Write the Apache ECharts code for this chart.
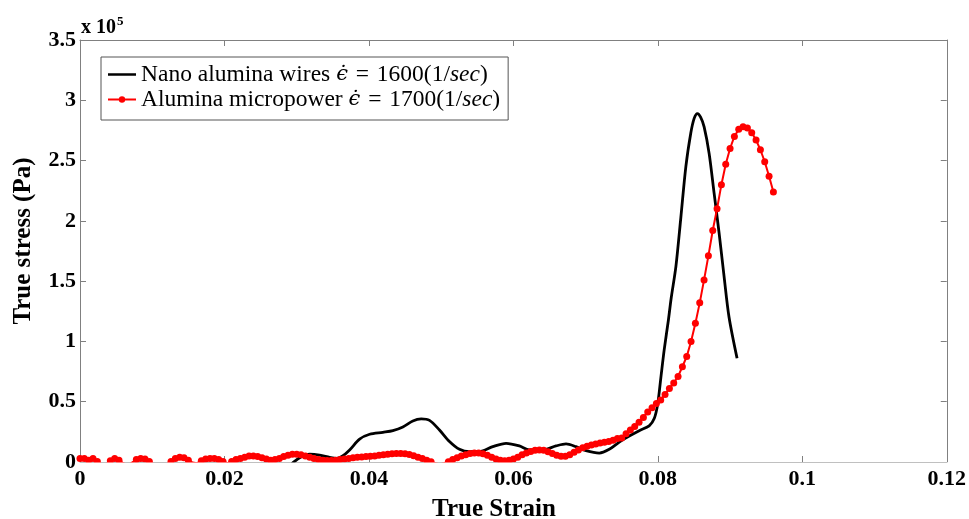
<!DOCTYPE html>
<html><head><meta charset="utf-8">
<script src="https://cdn.jsdelivr.net/npm/echarts@6/dist/echarts.min.js"></script>
<style>html,body{margin:0;padding:0;background:#fff}#c{width:969px;height:519px}</style>
</head><body><div id="c"></div>
<script>
// Stress values are in units of 10^5 Pa (as the axis multiplier shows)
const xTickLabels = ['0', '0.02', '0.04', '0.06', '0.08', '0.1', '0.12'];
const yTickLabels = ['0', '0.5', '1', '1.5', '2', '2.5', '3', '3.5'];
const seriesNames = ['Nano alumina wires \u03f5\u0307=1600(1/sec)', 'Alumina micropower \u03f5\u0307=1700(1/sec)'];

const blackX = [0.0292, 0.02949, 0.03065, 0.0318, 0.03318, 0.03456, 0.03549, 0.03636, 0.03733, 0.03871, 0.0401, 0.04193, 0.04332, 0.0447, 0.04608, 0.04724, 0.04839, 0.04977, 0.05115, 0.05254, 0.05392, 0.0553, 0.05714, 0.05899, 0.06083, 0.06221, 0.06405, 0.0659, 0.06729, 0.06867, 0.07005, 0.07189, 0.07327, 0.07466, 0.07604, 0.07742, 0.0788, 0.0795, 0.07998, 0.08042, 0.08088, 0.08147, 0.08185, 0.0825, 0.08319, 0.08388, 0.08457, 0.08503, 0.08548, 0.08592, 0.08641, 0.0871, 0.08779, 0.08848, 0.08917, 0.08986, 0.09097];
const blackY = [-0.03, -0.005, 0.044, 0.066, 0.058, 0.039, 0.03, 0.05, 0.1, 0.19, 0.23, 0.246, 0.26, 0.29, 0.34, 0.357, 0.345, 0.265, 0.17, 0.105, 0.085, 0.085, 0.127, 0.155, 0.133, 0.1, 0.1, 0.133, 0.15, 0.127, 0.094, 0.074, 0.105, 0.165, 0.215, 0.26, 0.3, 0.36, 0.48, 0.7, 0.93, 1.18, 1.36, 1.62, 2.03, 2.45, 2.73, 2.85, 2.89, 2.86, 2.78, 2.56, 2.23, 1.9, 1.54, 1.2, 0.86];

const redX = [0, 0.0006, 0.0012, 0.0018, 0.0024, 0.003, 0.0036, 0.0042, 0.0048, 0.0054, 0.006, 0.0066, 0.0072, 0.0078, 0.0084, 0.009, 0.0096, 0.0102, 0.0108, 0.0114, 0.012, 0.0126, 0.0132, 0.0138, 0.0144, 0.015, 0.0156, 0.0162, 0.0168, 0.0174, 0.018, 0.0186, 0.0192, 0.0198, 0.0204, 0.021, 0.0216, 0.0222, 0.0228, 0.0234, 0.024, 0.0246, 0.0252, 0.0258, 0.0264, 0.027, 0.0276, 0.0282, 0.0288, 0.0294, 0.03, 0.0306, 0.0312, 0.0318, 0.0324, 0.033, 0.0336, 0.0342, 0.0348, 0.0354, 0.036, 0.0366, 0.0372, 0.0378, 0.0384, 0.039, 0.0396, 0.0402, 0.0408, 0.0414, 0.042, 0.0426, 0.0432, 0.0438, 0.0444, 0.045, 0.0456, 0.0462, 0.0468, 0.0474, 0.048, 0.0486, 0.0492, 0.0498, 0.0504, 0.051, 0.0516, 0.0522, 0.0528, 0.0534, 0.054, 0.0546, 0.0552, 0.0558, 0.0564, 0.057, 0.0576, 0.0582, 0.0588, 0.0594, 0.06, 0.0606, 0.0612, 0.0618, 0.0624, 0.063, 0.0636, 0.0642, 0.0648, 0.0654, 0.066, 0.0666, 0.0672, 0.0678, 0.0684, 0.069, 0.0696, 0.0702, 0.0708, 0.0714, 0.072, 0.0726, 0.0732, 0.0738, 0.0744, 0.075, 0.0756, 0.0762, 0.0768, 0.0774, 0.078, 0.0786, 0.0792, 0.0798, 0.0804, 0.081, 0.0816, 0.0822, 0.0828, 0.0834, 0.084, 0.0846, 0.0852, 0.0858, 0.0864, 0.087, 0.0876, 0.0882, 0.0888, 0.0894, 0.09, 0.0906, 0.0912, 0.0918, 0.0924, 0.093, 0.0936, 0.0942, 0.0948, 0.0954, 0.096];
const redY = [0.03, 0.03, 0.015, 0.03, 0.005, -0.02, -0.02, 0.01, 0.03, 0.015, -0.01, -0.03, -0.005, 0.02, 0.03, 0.025, 0.005, -0.02, -0.04, -0.04, -0.02, 0.005, 0.03, 0.04, 0.035, 0.015, -0.005, -0.01, 0.01, 0.025, 0.03, 0.03, 0.02, 0.005, -0.01, 0.005, 0.02, 0.03, 0.04, 0.05, 0.05, 0.045, 0.035, 0.025, 0.015, 0.02, 0.03, 0.045, 0.055, 0.065, 0.065, 0.06, 0.05, 0.04, 0.03, 0.02, 0.015, 0.012, 0.012, 0.015, 0.02, 0.025, 0.03, 0.035, 0.04, 0.042, 0.045, 0.047, 0.05, 0.055, 0.06, 0.065, 0.068, 0.07, 0.07, 0.068, 0.062, 0.052, 0.04, 0.028, 0.015, 0.003, -0.01, -0.02, -0.01, 0.003, 0.02, 0.035, 0.05, 0.06, 0.07, 0.075, 0.075, 0.068, 0.055, 0.04, 0.025, 0.015, 0.01, 0.015, 0.025, 0.04, 0.06, 0.075, 0.088, 0.097, 0.1, 0.097, 0.085, 0.07, 0.055, 0.047, 0.048, 0.06, 0.08, 0.1, 0.118, 0.13, 0.14, 0.15, 0.158, 0.163, 0.17, 0.18, 0.195, 0.2, 0.235, 0.265, 0.295, 0.33, 0.37, 0.415, 0.45, 0.485, 0.515, 0.56, 0.61, 0.655, 0.71, 0.79, 0.875, 1.0, 1.15, 1.32, 1.51, 1.71, 1.92, 2.1, 2.3, 2.47, 2.6, 2.7, 2.76, 2.78, 2.77, 2.73, 2.67, 2.59, 2.49, 2.37, 2.24];

const serif = '"Liberation Serif", "DejaVu Serif", serif';
const axisGray = '#808080';

const blackData = blackX.map((x, i) => [x, blackY[i]]);
const redData = redX.map((x, i) => [x, redY[i]]);

const chart = echarts.init(document.getElementById('c'), null, {renderer: 'canvas'});

const xFmt = v => { const s = xTickLabels.find(t => Math.abs(parseFloat(t) - v) < 1e-9); return s !== undefined ? s : ''; };
const yFmt = v => { const s = yTickLabels.find(t => Math.abs(parseFloat(t) - v) < 1e-9); return s !== undefined ? s : ''; };

const baseAxis = {
  type: 'value',
  axisLine: {show: true, onZero: false, lineStyle: {color: axisGray, width: 1}},
  axisTick: {show: true, inside: true, length: 6, lineStyle: {color: axisGray, width: 1}},
  splitLine: {show: false}
};

// thin horizontal bar icon (tiny corner points keep the 28x8 box so it is not stretched)
const lineIcon = 'path://M0,0 L0.01,0 L0,0.01 Z M0,2.7 L28,2.7 L28,5.3 L0,5.3 Z M28,8 L27.99,8 L28,7.99 Z';

chart.setOption({
  animation: false,
  backgroundColor: '#fff',
  grid: {left: 80, right: 21, top: 40, bottom: 57, containLabel: false},
  xAxis: [
    Object.assign({}, baseAxis, {min: 0, max: 0.12, interval: 0.02, position: 'bottom',
      axisLabel: {formatter: xFmt, color: '#000', fontFamily: serif, fontWeight: 'bold', fontSize: 22, margin: 6}}),
    Object.assign({}, baseAxis, {min: 0, max: 0.12, interval: 0.02, position: 'top', axisLabel: {show: false}})
  ],
  yAxis: [
    Object.assign({}, baseAxis, {min: 0, max: 3.5, interval: 0.5, position: 'left',
      axisLabel: {formatter: yFmt, color: '#000', fontFamily: serif, fontWeight: 'bold', fontSize: 22, margin: 4}}),
    Object.assign({}, baseAxis, {min: 0, max: 3.5, interval: 0.5, position: 'right', axisLabel: {show: false}})
  ],
  legend: {
    left: 101, top: 57, orient: 'vertical',
    backgroundColor: '#fff', borderColor: '#555', borderWidth: 1,
    padding: [5, 8, 8, 6], itemGap: 0, itemWidth: 28, itemHeight: 8,
    data: [{name: seriesNames[0], icon: lineIcon}, {name: seriesNames[1]}],
    formatter: name => name
      .replace('\u03f5\u0307', '{e|\u03f5\u0307}')
      .replace('=', '\u2004=\u2004')
      .replace('sec', '{i|sec}'),
    textStyle: {color: '#000', fontFamily: serif, fontSize: 23.5, lineHeight: 25,
      rich: {
        i: {fontStyle: 'italic', fontFamily: serif, fontSize: 23.5, lineHeight: 25, color: '#000'},
        e: {fontFamily: '"DejaVu Serif", serif', fontStyle: 'italic', fontSize: 21, lineHeight: 25, color: '#000'}
      }}
  },
  graphic: [
    {type: 'text', left: 81, top: 15, z: 10, style: {
      text: '{a|x 10}{b|5}', rich: {
        a: {fontFamily: serif, fontWeight: 'bold', fontSize: 20, fill: '#000', verticalAlign: 'bottom'},
        b: {fontFamily: serif, fontWeight: 'bold', fontSize: 13, fill: '#000', verticalAlign: 'top', padding: [0, 0, 10, 1]}
      }}},
    {type: 'text', x: 494, y: 510, z: 10, style: {text: 'True Strain', fontFamily: serif, fontWeight: 'bold', fontSize: 25, fill: '#000', align: 'center', verticalAlign: 'middle'}},
    {type: 'text', x: 24, y: 241, rotation: Math.PI / 2, z: 10, style: {text: 'True stress (Pa)', fontFamily: serif, fontWeight: 'bold', fontSize: 25, fill: '#000', align: 'center', verticalAlign: 'middle'}},
    // white strip just under the bottom axis: markers are cut at the axis like in the original
    {type: 'rect', z: 5, silent: true, shape: {x: 76, y: 462.6, width: 880, height: 5}, style: {fill: '#fff'}}
  ],
  series: [
    {name: seriesNames[0], type: 'line', data: blackData, xAxisIndex: 0, yAxisIndex: 0,
      symbol: 'none', showSymbol: false, smooth: 0.3, clip: true,
      lineStyle: {color: '#000', width: 2.8}, itemStyle: {color: '#000'}, z: 3},
    {name: seriesNames[1], type: 'line', data: redData, xAxisIndex: 0, yAxisIndex: 0,
      symbol: 'circle', symbolSize: 7, showSymbol: true, showAllSymbol: true, clip: true,
      lineStyle: {color: '#ff0000', width: 2}, itemStyle: {color: '#ff0000'}, z: 4}
  ]
});
</script>
</body></html>
